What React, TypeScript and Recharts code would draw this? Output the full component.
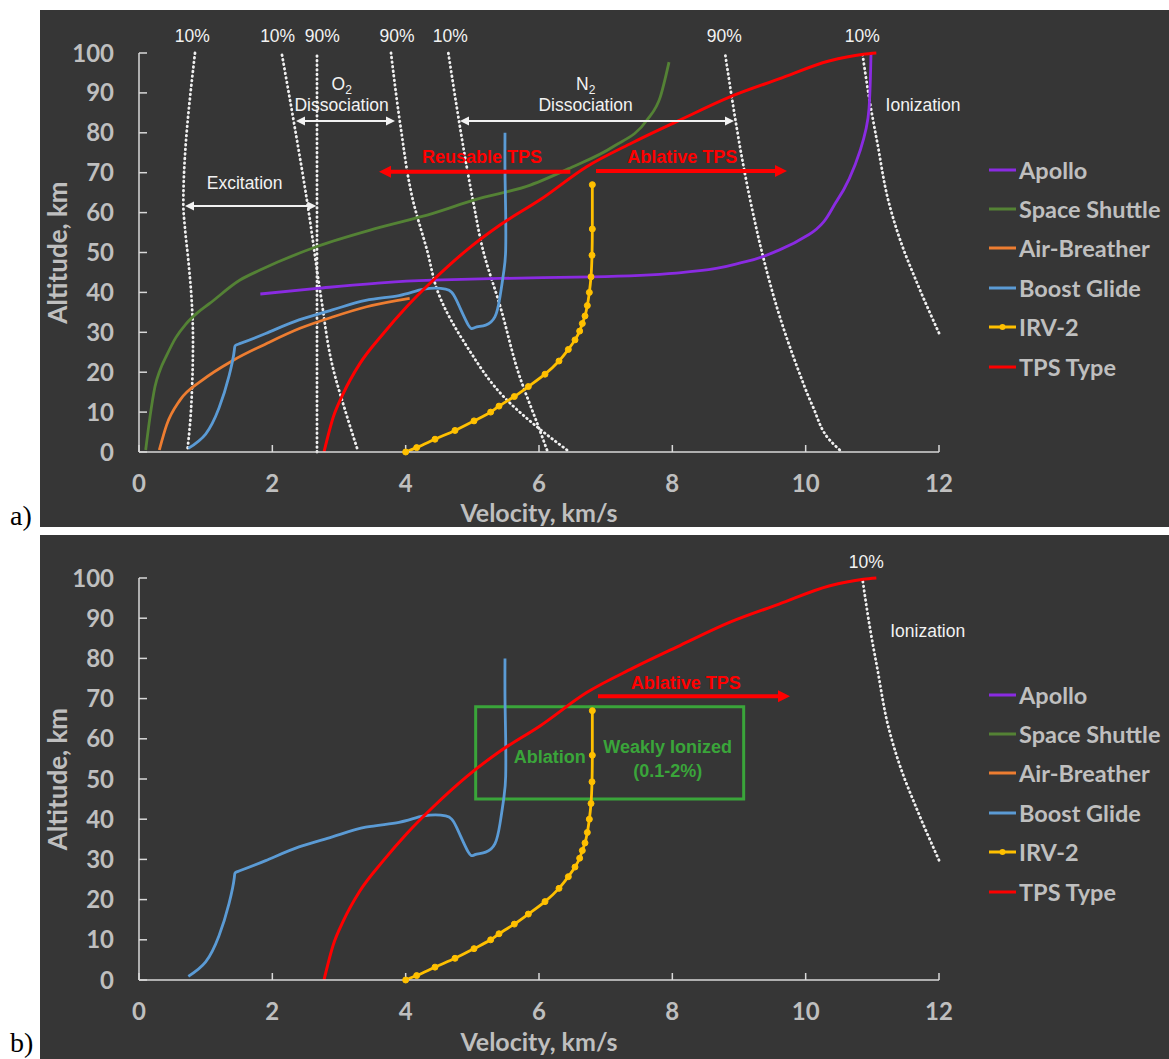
import React from "react";
import { LineChart, Line, XAxis, YAxis, Legend, ReferenceLine, ReferenceDot, ReferenceArea } from "recharts";

type Pt = [number, number]; // [velocity km/s, altitude km]

const velocityTicks = [0, 2, 4, 6, 8, 10, 12];
const altitudeTicks = [0, 10, 20, 30, 40, 50, 60, 70, 80, 90, 100];

// trajectories
const apollo: Pt[] = [
  [1.82, 39.6], [2.67, 41], [3.5, 42.2], [4.41, 43.1], [5.41, 43.5], [6.8, 43.9], [8.1, 44.9],
  [9.1, 47.7], [9.6, 50.6], [10.05, 54.5], [10.47, 63], [10.82, 75.7], [10.95, 86], [10.98, 100],
];
const spaceShuttle: Pt[] = [
  [0.1, 0.5], [0.165, 8.8], [0.24, 16.4], [0.315, 20.5], [0.415, 24.2], [0.55, 28.6], [0.7, 32],
  [0.87, 34.8], [1.065, 37.3], [1.515, 43.1], [1.815, 45.6], [2.67, 51.5], [3.57, 56.1], [4.41, 59.8],
  [5.03, 63.2], [5.87, 66.9], [6.47, 71.2], [7.11, 76.5], [7.62, 83.2], [7.82, 89], [7.95, 97.7],
];
const airBreather: Pt[] = [
  [0.305, 0.5], [0.415, 6.8], [0.615, 13], [0.95, 18], [1.415, 23], [1.915, 27.2], [2.415, 31],
  [2.915, 33.9], [3.415, 36.4], [4.06, 38.5],
];
const boostGlide: Pt[] = [
  [0.74, 0.9], [1.0, 4.5], [1.2, 11], [1.35, 19], [1.43, 25.5], [1.5, 27.1], [1.9, 29.7], [2.4, 33.1],
  [2.9, 35.6], [3.4, 38.0], [3.9, 39.2], [4.27, 40.8], [4.6, 40.8], [4.76, 38.1], [4.94, 31.8],
  [5.04, 31.2], [5.2, 31.8], [5.34, 33.9], [5.415, 38.9], [5.475, 45.6], [5.5, 50.6], [5.5, 60],
  [5.49, 70], [5.49, 80],
];
const irv2: Pt[] = [
  [4.0, 0], [4.165, 1.1], [4.44, 3.2], [4.74, 5.4], [5.025, 7.8], [5.275, 10], [5.4, 11.5], [5.63, 13.9],
  [5.84, 16.4], [6.09, 19.5], [6.3, 22.8], [6.44, 25.7], [6.54, 28.1], [6.61, 30.3], [6.65, 32.2],
  [6.69, 34.1], [6.725, 36.7], [6.755, 40], [6.78, 43.9], [6.795, 49.3], [6.8, 55.9], [6.8, 67],
];
const tpsType: Pt[] = [
  [2.775, 0], [2.915, 8.8], [3.065, 14.7], [3.315, 22.2], [3.665, 29.7], [4.015, 36.4], [4.415, 43.1],
  [4.915, 50.6], [5.415, 56.9], [6.015, 63.2], [6.715, 71.5], [7.4, 77.5], [8.115, 83.2], [8.865, 89],
  [9.6, 93.5], [10.35, 98], [10.865, 99.7], [11.06, 100],
];

// 10% / 90% boundaries
const excitation10: Pt[] = [[0.73, 1], [0.77, 8], [0.8, 18], [0.81, 28], [0.79, 38], [0.74, 48], [0.69, 56], [0.665, 62], [0.84, 100]];
const o2Start10: Pt[] = [[3.27, 1], [3.1, 10], [2.91, 21], [2.72, 40], [2.52, 63], [2.33, 82], [2.14, 100]];
const excitation90: Pt[] = [[2.67, 0], [2.67, 100]];
const o2End90: Pt[] = [[6.42, 0.5], [5.97, 6.3], [5.52, 13], [4.92, 26.4], [4.49, 39.8], [4.32, 50.6], [4.11, 63], [3.92, 82], [3.78, 100]];
const n2Start10: Pt[] = [[6.12, 0.5], [5.97, 7.3], [5.71, 18.9], [5.42, 36.4], [5.16, 50.6], [5.01, 63], [4.64, 100]];
const n2End90: Pt[] = [[10.51, 0.5], [10.36, 3], [10.11, 11.3], [9.87, 21.4], [9.61, 34], [9.36, 49], [9.17, 63], [8.79, 100]];
const ionization10: Pt[] = [[12.0, 29.8], [11.68, 42], [11.42, 53], [11.24, 63], [11.08, 77], [10.96, 88], [10.85, 100]];

const series = [
  { name: "Apollo", color: "#8a2be2", points: apollo, marker: false, curve: "monotoneY" },
  { name: "Space Shuttle", color: "#548235", points: spaceShuttle, marker: false, curve: "monotoneX" },
  { name: "Air-Breather", color: "#ed7d31", points: airBreather, marker: false, curve: "monotoneX" },
  { name: "Boost Glide", color: "#5b9bd5", points: boostGlide, marker: false, curve: "natural" },
  { name: "IRV-2", color: "#ffc000", points: irv2, marker: true, curve: "monotoneY" },
  { name: "TPS Type", color: "#ff0000", points: tpsType, marker: false, curve: "monotoneX" },
];

// annotations (data units)
const labelsA = [
  { v: 0.8, alt: 104.2, text: "10%" },
  { v: 2.08, alt: 104.2, text: "10%" },
  { v: 2.75, alt: 104.2, text: "90%" },
  { v: 3.87, alt: 104.2, text: "90%" },
  { v: 4.67, alt: 104.2, text: "10%" },
  { v: 8.78, alt: 104.2, text: "90%" },
  { v: 10.85, alt: 104.2, text: "10%" },
  { v: 3.04, alt: 92.2, text: "O", sub: "2" },
  { v: 3.04, alt: 87, text: "Dissociation" },
  { v: 6.7, alt: 92.2, text: "N", sub: "2" },
  { v: 6.7, alt: 87, text: "Dissociation" },
  { v: 1.585, alt: 67.3, text: "Excitation" },
  { v: 11.76, alt: 87, text: "Ionization" },
  { v: 5.145, alt: 73.9, text: "Reusable TPS", kind: "red" },
  { v: 8.15, alt: 73.9, text: "Ablative TPS", kind: "red" },
];
const labelsB = [
  { v: 10.91, alt: 104, text: "10%" },
  { v: 11.83, alt: 86.8, text: "Ionization" },
  { v: 8.2, alt: 73.8, text: "Ablative TPS", kind: "red" },
  { v: 6.16, alt: 55.5, text: "Ablation", kind: "green" },
  { v: 7.93, alt: 57.9, text: "Weakly Ionized", kind: "green" },
  { v: 7.93, alt: 52, text: "(0.1-2%)", kind: "green" },
];
const arrowsA = [
  { from: [6.47, 70.25], to: [3.6, 70.25], kind: "red", both: false },
  { from: [6.855, 70.4], to: [9.72, 70.4], kind: "red", both: false },
  { from: [0.69, 61.65], to: [2.66, 61.65], kind: "white", both: true },
  { from: [2.355, 82.95], to: [3.84, 82.95], kind: "white", both: true },
  { from: [4.815, 82.95], to: [8.925, 82.95], kind: "white", both: true },
];
const arrowsB = [{ from: [6.885, 70.6], to: [9.765, 70.6], kind: "red", both: false }];
const boxB = { v1: 5.05, v2: 9.07, alt1: 45, alt2: 68 };

const rows = (pts: Pt[]) => pts.map(([v, alt]) => ({ v, alt }));

const GREY = "#bfbfbf";
const BG = "#363636";
const GREEN = "#3aa53a";
const FONT = "Lato, sans-serif";

const textStyle = (kind?: string) =>
  kind === "red"
    ? { fill: "#ff0000", fontSize: 18, fontWeight: 700 }
    : kind === "green"
    ? { fill: GREEN, fontSize: 18, fontWeight: 700 }
    : { fill: "#f2f2f2", fontSize: 17.5, fontWeight: 400 };

const arrowShape = (color: string, width: number, head: number, half: number, both: boolean) => (p: any) => {
  const { x1, y1, x2, y2 } = p;
  const len = Math.hypot(x2 - x1, y2 - y1) || 1;
  const ux = (x2 - x1) / len;
  const uy = (y2 - y1) / len;
  const tri = (tx: number, ty: number, dir: number) => {
    const bx = tx - dir * ux * head;
    const by = ty - dir * uy * head;
    return `${tx},${ty} ${bx - uy * half},${by + ux * half} ${bx + uy * half},${by - ux * half}`;
  };
  const sx = both ? x1 + ux * head * 0.8 : x1;
  const sy = both ? y1 + uy * head * 0.8 : y1;
  return (
    <g>
      <line x1={sx} y1={sy} x2={x2 - ux * head * 0.8} y2={y2 - uy * head * 0.8} stroke={color} strokeWidth={width} />
      <polygon points={tri(x2, y2, 1)} fill={color} />
      {both && <polygon points={tri(x1, y1, -1)} fill={color} />}
    </g>
  );
};

const LegendBox = () => (
  <div style={{ fontFamily: FONT, fontWeight: 700, fontSize: 23.5, color: GREY }}>
    {series.map((s) => (
      <div key={s.name} style={{ display: "flex", alignItems: "center", height: 39.4, whiteSpace: "nowrap" }}>
        <svg width={29} height={10} style={{ marginRight: 1 }}>
          <line x1={0} y1={5} x2={27} y2={5} stroke={s.color} strokeWidth={3} />
          {s.marker && <circle cx={13.5} cy={5} r={3} fill={s.color} />}
        </svg>
        <span>{s.name}</span>
      </div>
    ))}
  </div>
);

type PanelProps = {
  top: number;
  height: number;
  xAxisHeight: number;
  shown: string[];
  boundaries: Pt[][];
  labels: { v: number; alt: number; text: string; sub?: string; kind?: string }[];
  arrows: { from: number[]; to: number[]; kind: string; both: boolean }[];
  box?: { v1: number; v2: number; alt1: number; alt2: number };
};

const Panel = ({ top, height, xAxisHeight, shown, boundaries, labels, arrows, box }: PanelProps) => (
  <div style={{ position: "absolute", left: 40, top, width: 1129, height, background: BG }}>
    <LineChart width={1129} height={height} margin={{ top: 43, right: 230, left: 0, bottom: 0 }}>
      <XAxis
        type="number"
        dataKey="v"
        domain={[0, 12]}
        ticks={velocityTicks}
        interval={0}
        height={xAxisHeight}
        tickSize={-7}
        tickMargin={30}
        axisLine={{ stroke: "#d9d9d9", strokeWidth: 1.5 }}
        tickLine={{ stroke: "#d9d9d9", strokeWidth: 1.5 }}
        tick={{ fill: GREY, fontSize: 24, fontWeight: 700, fontFamily: FONT }}
        label={{
          content: (p: any) => (
            <text
              x={p.viewBox.x + p.viewBox.width / 2}
              y={Math.min(p.viewBox.y + 61, height - 15.2)}
              textAnchor="middle"
              dominantBaseline="central"
              fill={GREY}
              fontSize={25}
              fontWeight={700}
              fontFamily={FONT}
            >
              Velocity, km/s
            </text>
          ),
        }}
      />
      <YAxis
        type="number"
        dataKey="alt"
        domain={[0, 100]}
        ticks={altitudeTicks}
        interval={0}
        width={99}
        tickSize={-8}
        tickMargin={33}
        axisLine={{ stroke: "#d9d9d9", strokeWidth: 1.5 }}
        tickLine={{ stroke: "#d9d9d9", strokeWidth: 1.5 }}
        tick={{ fill: GREY, fontSize: 24, fontWeight: 700, fontFamily: FONT }}
        label={{
          content: (p: any) => {
            const cx = p.viewBox.x + 17;
            const cy = p.viewBox.y + p.viewBox.height / 2;
            return (
              <text
                x={cx}
                y={cy}
                transform={`rotate(-90, ${cx}, ${cy})`}
                textAnchor="middle"
                dominantBaseline="central"
                fill={GREY}
                fontSize={26}
                fontWeight={700}
                fontFamily={FONT}
              >
                Altitude, km
              </text>
            );
          },
        }}
      />
      <Legend layout="vertical" align="center" verticalAlign="middle" wrapperStyle={{ left: 949, top: 140, width: 220 }} content={() => <LegendBox />} />
      {boundaries.map((b, i) => (
        <Line
          key={`b${i}`}
          data={rows(b)}
          dataKey="alt"
          type="monotoneY"
          stroke="#f0f0f0"
          strokeWidth={2.8}
          strokeDasharray="0.6 4"
          strokeLinecap="round"
          dot={false}
          legendType="none"
          isAnimationActive={false}
        />
      ))}
      {box && (
        <ReferenceArea
          x1={box.v1}
          x2={box.v2}
          y1={box.alt1}
          y2={box.alt2}
          fill="none"
          fillOpacity={0}
          stroke={GREEN}
          strokeWidth={3}
          ifOverflow="visible"
        />
      )}
      {series
        .filter((s) => shown.includes(s.name))
        .map((s) => (
          <Line
            key={s.name}
            name={s.name}
            data={rows(s.points)}
            dataKey="alt"
            type={s.curve as any}
            stroke={s.color}
            strokeWidth={s.name === "TPS Type" ? 3 : 2.8}
            dot={s.marker ? { r: 3, fill: s.color, stroke: s.color, strokeWidth: 1 } : false}
            isAnimationActive={false}
          />
        ))}
      {arrows.map((a, i) => (
        <ReferenceLine
          key={`a${i}`}
          segment={[
            { x: a.from[0], y: a.from[1] },
            { x: a.to[0], y: a.to[1] },
          ]}
          ifOverflow="visible"
          shape={
            a.kind === "red"
              ? arrowShape("#ff0000", 4, 12, 6, a.both)
              : arrowShape("#f2f2f2", 2, 9, 4.5, a.both)
          }
        />
      ))}
      {labels.map((l, i) => (
        <ReferenceDot
          key={`l${i}`}
          x={l.v}
          y={l.alt}
          r={0}
          ifOverflow="visible"
          shape={(p: any) => (
            <text
              x={p.cx}
              y={p.cy}
              textAnchor="middle"
              dominantBaseline="central"
              fontFamily="'Liberation Sans', Arial, sans-serif"
              {...textStyle(l.kind)}
            >
              {l.text}
              {l.sub && (
                <tspan dy={6} fontSize={12}>
                  {l.sub}
                </tspan>
              )}
            </text>
          )}
        />
      ))}
    </LineChart>
  </div>
);

export default function App() {
  return (
    <div style={{ position: "absolute", left: 0, top: 0, width: 1169, height: 1059, background: "#fff" }}>
      <Panel
        top={10}
        height={517}
        xAxisHeight={75}
        shown={series.map((s) => s.name)}
        boundaries={[excitation10, o2Start10, excitation90, o2End90, n2Start10, n2End90, ionization10]}
        labels={labelsA}
        arrows={arrowsA}
      />
      <Panel
        top={535}
        height={524}
        xAxisHeight={79}
        shown={["Boost Glide", "IRV-2", "TPS Type"]}
        boundaries={[ionization10]}
        labels={labelsB}
        arrows={arrowsB}
        box={boxB}
      />
      <svg width={40} height={1059} style={{ position: "absolute", left: 0, top: 0 }}>
        <text x={10} y={525} fontFamily="'Liberation Serif', 'Times New Roman', serif" fontSize={28} fill="#000">
          a)
        </text>
        <text x={10} y={1052} fontFamily="'Liberation Serif', 'Times New Roman', serif" fontSize={28} fill="#000">
          b)
        </text>
      </svg>
    </div>
  );
}
